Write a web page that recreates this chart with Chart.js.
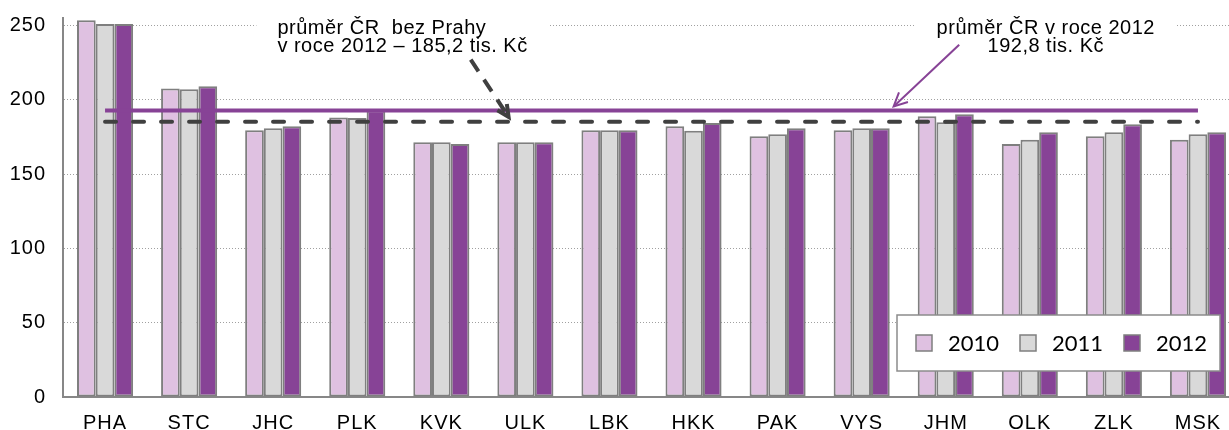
<!DOCTYPE html>
<html>
<head>
<meta charset="utf-8">
<script src="https://cdn.jsdelivr.net/npm/chart.js@4/dist/chart.umd.min.js"></script>
<style>
  html, body { margin: 0; padding: 0; background: #fff; overflow: hidden; }
  #wrap { position: absolute; left: 0; top: 0; width: 1240px; height: 430px; }
</style>
</head>
<body>
<div id="wrap"><canvas id="barChart" width="1240" height="430"></canvas></div>
<script>
var regions = ['PHA', 'STC', 'JHC', 'PLK', 'KVK', 'ULK', 'LBK', 'HKK', 'PAK', 'VYS', 'JHM', 'OLK', 'ZLK', 'MSK'];
var years = ['2010', '2011', '2012'];
var data2010 = [253.5, 207.5, 179.5, 188.0, 171.4, 171.4, 179.5, 182.1, 175.4, 179.5, 188.9, 170.3, 175.4, 173.0];
var data2011 = [251.0, 207.0, 180.8, 187.8, 171.4, 171.4, 179.5, 179.2, 176.8, 180.8, 184.9, 173.0, 178.1, 176.8];
var data2012 = [251.0, 209.0, 182.1, 193.0, 170.3, 171.4, 179.5, 184.4, 180.8, 180.8, 190.2, 178.1, 183.5, 178.1];
// prumer CR 2012 a prumer CR bez Prahy 2012
var avgCR = [192.8, 192.8, 192.8, 192.8, 192.8, 192.8, 192.8, 192.8, 192.8, 192.8, 192.8, 192.8, 192.8, 192.8];
var avgNoPHA = [185.2, 185.2, 185.2, 185.2, 185.2, 185.2, 185.2, 185.2, 185.2, 185.2, 185.2, 185.2, 185.2, 185.2];
var yTicks = [0, 50, 100, 150, 200, 250];

var barColors = ['#dfc1e1', '#d9d9d9', '#874396'];

// popisky a sipky v souradnicich os (index kategorie, hodnota)
var notes = [
  { lines: ['průměr ČR  bez Prahy', 'v roce 2012 – 185,2 tis. Kč'], x: 2.05, y: 244, align: 'left' },
  { lines: ['průměr ČR v roce 2012', '192,8 tis. Kč'], x: 11.19, y: 244, align: 'center' }
];
var arrows = [
  { from: [4.35, 227], to: [4.8, 188.5], color: '#404040', width: 4, dash: [14, 10], head: 13 },
  { from: [10.16, 237], to: [9.38, 195.5], color: '#874396', width: 2, dash: [], head: 15 }
];

var spacing = {
  id: 'spacing',
  beforeDraw: function (chart) {
    chart.ctx.letterSpacing = '1px';
  }
};

var annotations = {
  id: 'annotations',
  afterDraw: function (chart) {
    var ctx = chart.ctx, xs = chart.scales.x, ys = chart.scales.y;
    ctx.save();
    ctx.letterSpacing = '0.5px';
    ctx.font = '20px "Liberation Sans", Arial, sans-serif';
    notes.forEach(function (n) {
      var px = xs.getPixelForValue(n.x), py = ys.getPixelForValue(n.y);
      var w = 0;
      n.lines.forEach(function (l) { w = Math.max(w, ctx.measureText(l).width); });
      var left = n.align == 'left' ? px : px - w / 2;
      ctx.fillStyle = '#fff';
      ctx.fillRect(left - 21, py - 22, w + 42, 44);
      ctx.fillStyle = '#000';
      ctx.textAlign = n.align;
      ctx.textBaseline = 'alphabetic';
      n.lines.forEach(function (l, i) { ctx.fillText(l, px, py + i * 18); });
    });

    arrows.forEach(function (a) {
      var x1 = xs.getPixelForValue(a.from[0]), y1 = ys.getPixelForValue(a.from[1]);
      var x2 = xs.getPixelForValue(a.to[0]), y2 = ys.getPixelForValue(a.to[1]);
      var ang = Math.atan2(y2 - y1, x2 - x1);
      ctx.strokeStyle = a.color;
      ctx.lineWidth = a.width;
      ctx.lineCap = 'butt';
      ctx.setLineDash(a.dash);
      ctx.beginPath();
      ctx.moveTo(x1, y1);
      ctx.lineTo(x2, y2);
      ctx.stroke();
      ctx.setLineDash([]);
      ctx.lineJoin = 'miter';
      ctx.beginPath();
      ctx.moveTo(x2 - a.head * Math.cos(ang - 0.45), y2 - a.head * Math.sin(ang - 0.45));
      ctx.lineTo(x2, y2);
      ctx.lineTo(x2 - a.head * Math.cos(ang + 0.45), y2 - a.head * Math.sin(ang + 0.45));
      ctx.stroke();
    });
    ctx.restore();
  }
};

var boxLegend = {
  id: 'boxLegend',
  afterDraw: function (chart) {
    var ctx = chart.ctx, ca = chart.chartArea;
    var bx = ca.right - 343, by = ca.bottom - 82, bw = 323, bh = 56;
    ctx.save();
    ctx.letterSpacing = '0px';
    ctx.fillStyle = '#fff';
    ctx.fillRect(bx, by, bw, bh);
    ctx.strokeStyle = '#8c8c8c';
    ctx.lineWidth = 1.5;
    ctx.strokeRect(bx, by, bw, bh);
    ctx.font = '22px Lato, sans-serif';
    ctx.textBaseline = 'middle';
    ctx.textAlign = 'left';
    years.forEach(function (y, i) {
      var sx = bx + 19 + i * 104, sy = by + bh / 2;
      ctx.fillStyle = barColors[i];
      ctx.fillRect(sx, sy - 8, 16, 16);
      ctx.strokeStyle = '#7f7f7f';
      ctx.strokeRect(sx, sy - 8, 16, 16);
      ctx.fillStyle = '#000';
      ctx.fillText(y, sx + 32, sy + 1);
    });
    ctx.restore();
  }
};

Chart.defaults.font.family = '"Liberation Sans", Arial, sans-serif';
Chart.defaults.font.size = 20;
Chart.defaults.color = '#000';

function barSet(label, values, i) {
  return {
    type: 'bar',
    label: label,
    data: values,
    backgroundColor: barColors[i],
    borderColor: '#7f7f7f',
    borderWidth: 2,
    borderSkipped: false,
    categoryPercentage: 0.667,
    barPercentage: 1,
    order: 1
  };
}

var barChartCanvas = document.getElementById('barChart').getContext('2d');
var barChart = new Chart(barChartCanvas, {
  type: 'bar',
  data: {
    labels: regions,
    datasets: [
      barSet(years[0], data2010, 0),
      barSet(years[1], data2011, 1),
      barSet(years[2], data2012, 2),
      {
        type: 'line',
        label: 'průměr ČR',
        data: avgCR,
        borderColor: '#874396',
        borderWidth: 4,
        pointRadius: 0,
        fill: false,
        order: 0
      },
      {
        type: 'line',
        label: 'průměr ČR bez Prahy',
        data: avgNoPHA,
        borderColor: '#404040',
        borderWidth: 4,
        borderDash: [11, 17],
        borderCapStyle: 'round',
        pointRadius: 0,
        fill: false,
        order: 0
      }
    ]
  },
  options: {
    responsive: false,
    animation: false,
    layout: { padding: { top: 18, right: 0, left: 0, bottom: 0 } },
    plugins: {
      legend: { display: false },
      tooltip: { enabled: false }
    },
    scales: {
      x: {
        grid: { display: false },
        border: { display: true, color: '#878787', width: 2 },
        ticks: { padding: 6 },
        afterFit: function (scale) { scale.height = 33; }
      },
      y: {
        min: 0,
        max: 255,
        afterBuildTicks: function (scale) {
          scale.ticks = yTicks.map(function (v) { return { value: v }; });
        },
        grid: {
          drawTicks: false,
          lineWidth: 1,
          color: function (c) { return c.tick && c.tick.value === 0 ? 'rgba(0,0,0,0)' : '#a0a0a0'; }
        },
        border: { display: true, color: '#878787', width: 2, dash: [1, 2] },
        ticks: { padding: 17 },
        afterFit: function (scale) {
          scale.width = 63;
          scale.paddingTop = 0;
          scale.paddingBottom = 0;
        }
      }
    }
  },
  plugins: [spacing, annotations, boxLegend]
});
</script>
</body>
</html>
